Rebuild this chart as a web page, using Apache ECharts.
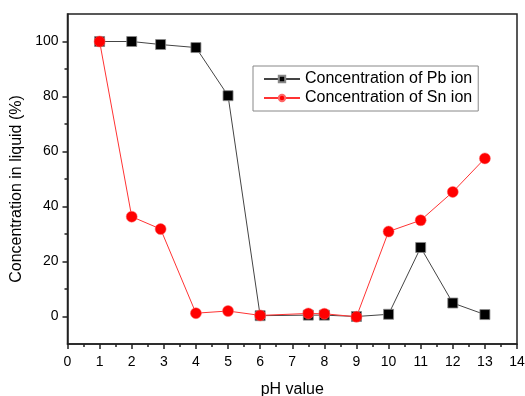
<!DOCTYPE html>
<html><head><meta charset="utf-8">
<script src="https://cdn.jsdelivr.net/npm/echarts@6/dist/echarts.min.js"></script>
<style>html,body{margin:0;padding:0;background:#fff}#c{width:525px;height:396px}</style>
</head><body><div id="c"></div>
<script>
const pbX = [1, 2, 2.9, 4, 5, 6, 7.5, 8, 9, 10, 11, 12, 13];
const pbY = [100, 100, 98.9, 97.8, 80.3, 0.3, 0.5, 0.5, 0, 0.8, 25.1, 4.9, 0.7];
const snX = [1, 2, 2.9, 4, 5, 6, 7.5, 8, 9, 10, 11, 12, 13];
const snY = [100, 36.3, 31.8, 1.2, 2.0, 0.4, 1.1, 1.0, -0.1, 30.9, 35.0, 45.3, 57.5];
const yLabels = [0, 20, 40, 60, 80, 100];
const yMinor = [10, 30, 50, 70, 90];
const seriesNames = ['Concentration of Pb ion', 'Concentration of Sn ion'];

const font = 'Liberation Sans, Arial, sans-serif';
const chart = echarts.init(document.getElementById('c'));
chart.setOption({
  animation: false,
  grid: {left: 67.5, right: 8, top: 14, bottom: 52, outerBoundsMode: 'none', containLabel: false,
         show: true, borderColor: '#222', borderWidth: 1.5, backgroundColor: 'transparent'},
  legend: {
    left: 253, top: 66, orient: 'vertical', itemGap: 3, itemWidth: 36, itemHeight: 8,
    padding: [5, 6, 5, 10],
    borderColor: '#888', borderWidth: 1, borderRadius: 0,
    textStyle: {fontFamily: font, fontSize: 16, color: '#000'},
    data: seriesNames
  },
  xAxis: {
    type: 'value', min: 0, max: 14, interval: 1,
    name: 'pH value', nameLocation: 'middle', nameGap: 38,
    nameTextStyle: {fontFamily: font, fontSize: 16, color: '#000'},
    axisLine: {onZero: false, lineStyle: {color: '#222', width: 1.5}},
    axisTick: {inside: false, length: 5, lineStyle: {color: '#222', width: 1.5}},
    minorTick: {show: true, splitNumber: 2, length: 3, lineStyle: {color: '#222', width: 1.5}},
    axisLabel: {fontFamily: font, fontSize: 14, color: '#000', margin: 11},
    splitLine: {show: false}
  },
  yAxis: [{
    type: 'value', min: -10, max: 110,
    name: 'Concentration in liquid (%)', nameLocation: 'middle', nameGap: 42,
    nameTextStyle: {fontFamily: font, fontSize: 16, color: '#000', padding: [0, 20, 0, 0]},
    axisLine: {show: true, onZero: false, lineStyle: {color: '#222', width: 1.5}},
    axisTick: {show: true, length: 5, customValues: yLabels, lineStyle: {color: '#222', width: 1.5}},
    axisLabel: {fontFamily: font, fontSize: 14, color: '#000', margin: 9, customValues: yLabels},
    splitLine: {show: false}
  }, {
    type: 'value', min: -10, max: 110, position: 'left', offset: 0,
    axisLine: {show: false, onZero: false},
    axisTick: {show: true, length: 3, customValues: yMinor, lineStyle: {color: '#222', width: 1.5}},
    axisLabel: {show: false},
    splitLine: {show: false}
  }],
  series: [{
    name: seriesNames[0], type: 'line',
    data: pbX.map((x, i) => [x, pbY[i]]),
    symbol: 'rect', symbolSize: 10,
    itemStyle: {color: '#000', borderColor: '#888', borderWidth: 0.8},
    lineStyle: {color: '#444', width: 1}
  }, {
    name: seriesNames[1], type: 'line',
    data: snX.map((x, i) => [x, snY[i]]),
    symbol: 'circle', symbolSize: 11,
    itemStyle: {color: '#f00', borderColor: '#f66', borderWidth: 0.5},
    lineStyle: {color: '#f33', width: 1}
  }]
});
</script></body></html>
